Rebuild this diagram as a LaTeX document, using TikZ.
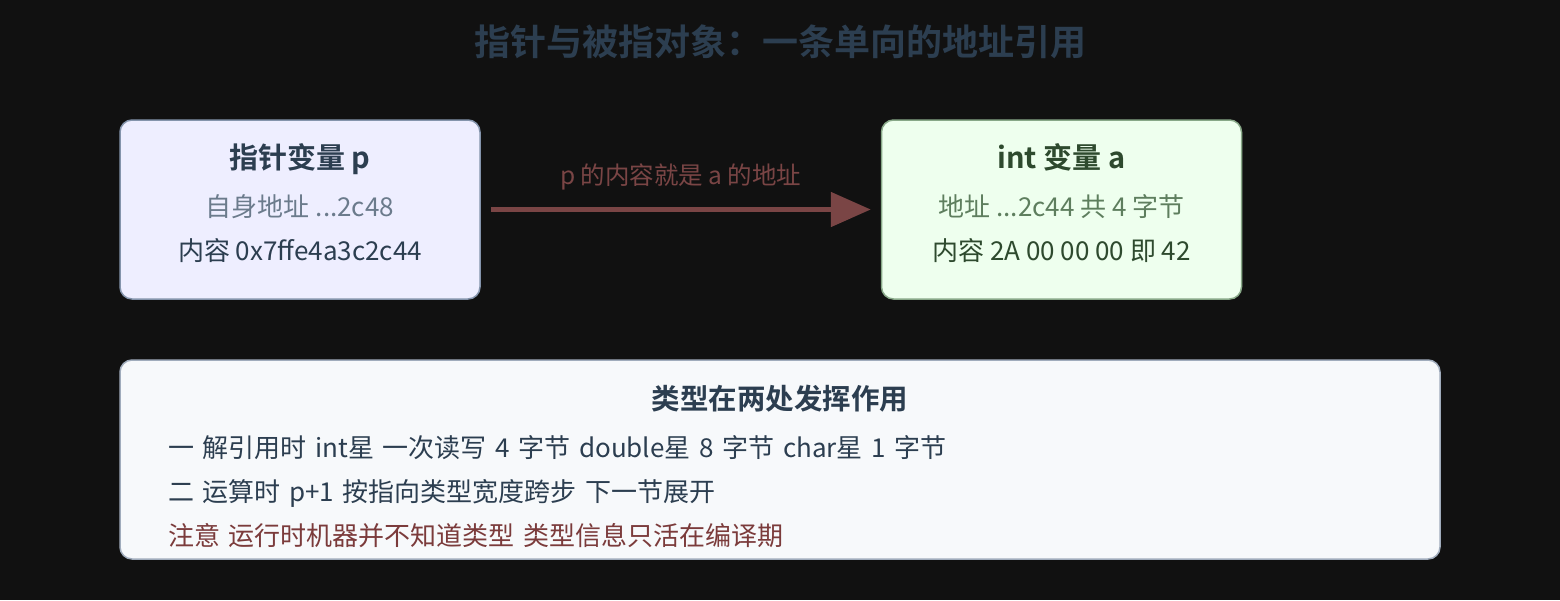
\documentclass[tikz,border=0pt]{standalone}
\usepackage{fontspec}
\setmainfont{Noto Sans CJK SC}[BoldFont={Noto Sans CJK SC Bold}]
\usepackage{xcolor}
\definecolor{bgdark}{HTML}{111111}
\definecolor{slate}{HTML}{2C3E50}
\definecolor{slategray}{HTML}{6B7B8C}
\definecolor{pfill}{HTML}{EEEEFF}
\definecolor{pline}{HTML}{8494AC}
\definecolor{afill}{HTML}{EEFFEE}
\definecolor{aline}{HTML}{88A888}
\definecolor{adark}{HTML}{2E4A2E}
\definecolor{agreen}{HTML}{5E7E5E}
\definecolor{nfill}{HTML}{F7F9FB}
\definecolor{nline}{HTML}{A0ACBC}
\definecolor{linkred}{HTML}{7A4545}
\definecolor{warnred}{HTML}{7B3B3B}
\usepackage{tikz}
\usetikzlibrary{positioning}
\usetikzlibrary{arrows.meta}
\tikzset{var node/.style={rectangle,rounded corners=12pt,draw,line width=1.5pt,minimum width=360pt,minimum height=179pt,inner sep=0pt,align=center,font=\fontsize{26}{44}\selectfont},}
\newcommand{\lowstrut}{\rule[-15pt]{0pt}{15pt}}

\begin{document}
\begin{tikzpicture}[x=1pt, y=-1pt, >={Triangle[length=40pt,width=34pt]}, node distance=400pt]
	\useasboundingbox[fill=bgdark] (0,0) rectangle (1560,600);
	\node[text=slate, font=\fontsize{36}{40}\selectfont\bfseries] (title) at (780,42) {指针与被指对象：一条单向的地址引用};

	\node[var node, fill=pfill, draw=pline, text=slate] (pvar) at (300,209.5) {{\fontsize{29}{44}\selectfont\bfseries 指针变量 p}\\[4pt] {\color{slategray}自身地址 ...2c48}\\ 内容 0x7ffe4a3c2c44\lowstrut};
	\node[var node, fill=afill, draw=aline, text=adark] (avar) [right = of pvar] {{\fontsize{29}{44}\selectfont\bfseries int 变量 a}\\[4pt] {\color{agreen}地址 ...2c44 共 4 字节}\\ 内容 2A 00 00 00 即 42\lowstrut};

	\draw[->, linkred, line width=5pt, shorten <=10pt, shorten >=10pt] (pvar) -- node[above=14pt, font=\fontsize{24.5}{28}\selectfont] (link) {p 的内容就是 a 的地址} (avar);

	\node[rectangle, rounded corners=12pt, draw=nline, line width=1.5pt, fill=nfill, minimum width=1320pt, minimum height=199pt, text width=1224pt, align=left, text=slate, font=\fontsize{26}{44}\selectfont] (note) at (780,459.5) {\makebox[\linewidth][c]{\rule{0pt}{38pt}\fontsize{28.5}{44}\selectfont\bfseries 类型在两处发挥作用}\\[4pt] 一 解引用时 int星 一次读写 4 字节 double星 8 字节 char星 1 字节\\ 二 运算时 p+1 按指向类型宽度跨步 下一节展开\\ {\color{warnred}注意 运行时机器并不知道类型 类型信息只活在编译期}};
\end{tikzpicture}
\end{document}
